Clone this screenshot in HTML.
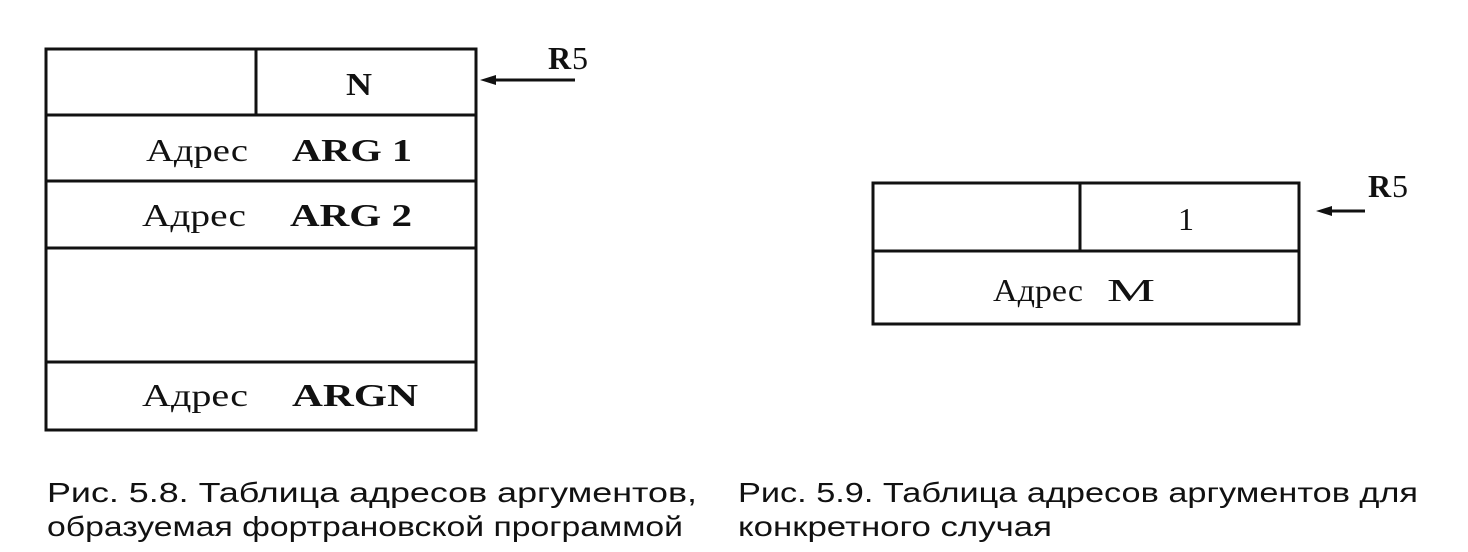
<!DOCTYPE html>
<html><head><meta charset="utf-8"><style>
html,body{margin:0;padding:0;background:#fff;width:1468px;height:552px;overflow:hidden}
svg{display:block}
text{font-family:"Liberation Serif",serif;fill:#111}
.c{font-family:"Liberation Sans",sans-serif;font-size:28px}
</style></head><body>
<svg width="1468" height="552" viewBox="0 0 1468 552">
<g stroke="#111" stroke-width="3" fill="none">
<rect x="46" y="49" width="430" height="381"/>
<line x1="46" y1="115" x2="476" y2="115"/>
<line x1="46" y1="181" x2="476" y2="181"/>
<line x1="46" y1="248" x2="476" y2="248"/>
<line x1="46" y1="362" x2="476" y2="362"/>
<line x1="256" y1="49" x2="256" y2="115"/>
<line x1="490" y1="80" x2="575" y2="80"/>
<rect x="873" y="183" width="426" height="141"/>
<line x1="873" y1="251" x2="1299" y2="251"/>
<line x1="1080" y1="183" x2="1080" y2="251"/>
<line x1="1328" y1="211" x2="1365" y2="211"/>
</g>
<polygon points="480,80 496,75 496,85" fill="#111"/>
<polygon points="1316,211 1332,206 1332,216" fill="#111"/>
<g font-size="32">
<text x="346" y="95" font-weight="bold" textLength="26" lengthAdjust="spacingAndGlyphs">N</text>
<text x="146" y="161" textLength="102" lengthAdjust="spacingAndGlyphs">Адрес</text><text x="292" y="161" font-weight="bold" textLength="120" lengthAdjust="spacingAndGlyphs">ARG 1</text>
<text x="142" y="226" textLength="104" lengthAdjust="spacingAndGlyphs">Адрес</text><text x="290" y="226" font-weight="bold" textLength="122" lengthAdjust="spacingAndGlyphs">ARG 2</text>
<text x="142" y="406" textLength="106" lengthAdjust="spacingAndGlyphs">Адрес</text><text x="292" y="406" font-weight="bold" textLength="126" lengthAdjust="spacingAndGlyphs">ARGN</text>
<text x="548" y="69" font-weight="bold">R</text><text x="572" y="69">5</text>
<text x="1368" y="197" font-weight="bold">R</text><text x="1392" y="197">5</text>
<text x="1178" y="230">1</text>
<text x="993" y="301" textLength="90" lengthAdjust="spacingAndGlyphs">Адрес</text><text x="1107" y="301" textLength="48" lengthAdjust="spacingAndGlyphs">M</text>
</g>
<text class="c" x="47" y="502" textLength="650" lengthAdjust="spacingAndGlyphs">Рис. 5.8. Таблица адресов аргументов,</text>
<text class="c" x="47" y="536" textLength="636" lengthAdjust="spacingAndGlyphs">образуемая фортрановской программой</text>
<text class="c" x="738" y="502" textLength="680" lengthAdjust="spacingAndGlyphs">Рис. 5.9. Таблица адресов аргументов для</text>
<text class="c" x="738" y="536" textLength="314" lengthAdjust="spacingAndGlyphs">конкретного случая</text>
</svg>
</body></html>
